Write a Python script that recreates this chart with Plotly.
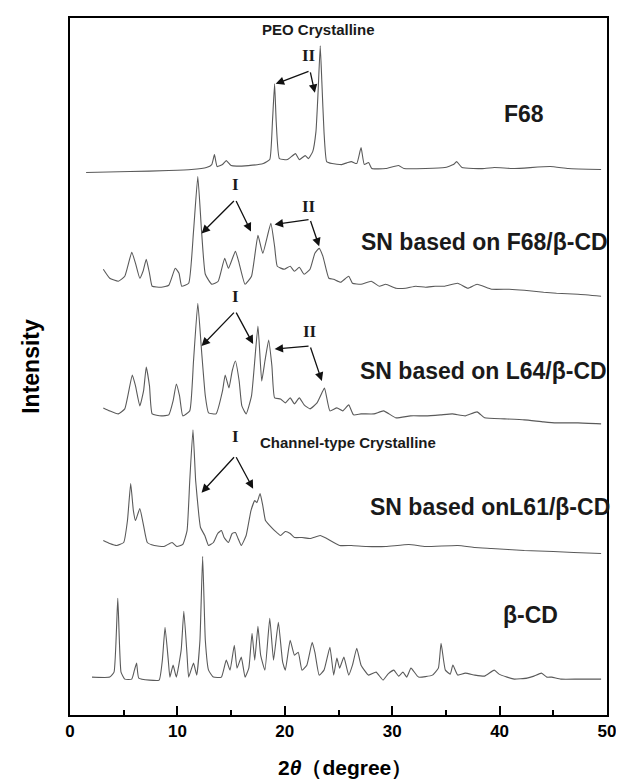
import plotly.graph_objects as go

# ---------------- data (2theta in degrees, intensity in arbitrary stacked units) ----------------
tt_f68 = [1.5, 5.6, 9.2, 11.3, 12.7, 13.2, 13.45, 13.7, 14.2, 14.55, 15.0, 16.6, 18.0, 18.6, 18.85, 19.05,
          19.2, 19.5, 20.25, 21.0, 21.35, 21.9, 22.2, 22.6, 22.9, 23.1, 23.3, 23.45, 23.65, 23.9, 24.4,
          25.3, 25.85, 26.2, 26.7, 27.1, 27.4, 27.8, 28.1, 29.4, 30.6, 31.1, 33.1, 34.9, 35.7, 36.0,
          36.5, 38.6, 39.5, 41.4, 44.7, 46.4, 49.45]
i_f68 = [544, 545, 546, 547, 549, 552, 562, 550, 552, 556, 551, 551, 553, 557, 595, 633,
         595, 558, 557, 563, 557, 561, 558, 565, 585, 625, 671, 635, 585, 555, 553,
         552, 554, 555, 553, 569, 552, 554, 548, 548, 551, 548, 548, 549, 552, 555,
         549, 548, 549, 548, 550, 548, 547]

tt_f68cd = [3.1, 3.7, 4.5, 5.1, 5.75, 6.1, 6.5, 6.8, 7.1, 7.4, 7.65, 8.5, 9.2, 9.8, 10.15, 10.4, 11.05,
            11.5, 11.9, 12.25, 12.6, 13.2, 13.8, 14.4, 14.75, 15.4, 15.75, 16.3, 16.9, 17.5, 17.95, 18.7,
            19.05, 19.3, 19.95, 20.5, 20.9, 21.35, 21.8, 22.35, 22.8, 23.2, 23.55, 24.1, 24.55, 25.2,
            25.95, 26.3, 27.1, 28.05, 28.8, 29.4, 30.35, 31.25, 32.2, 33.1, 34.0, 34.9, 36.1, 37.05,
            37.9, 39.25, 40.9, 42.3, 44.1, 45.3, 47.3, 49.45]
i_f68cd = [447, 438, 435, 440, 464, 453, 438, 445, 457, 443, 430, 429, 431, 448, 443, 430, 433,
           485, 540, 485, 442, 432, 435, 458, 448, 465, 453, 432, 440, 481, 463, 493,
           470, 450, 447, 450, 445, 449, 442, 447, 463, 468, 460, 438, 437, 434,
           440, 433, 432, 435, 430, 432, 428, 428, 430, 429, 430, 430, 433, 428,
           432, 427, 427, 426, 424, 423, 422, 420]

tt_l64 = [3.1, 3.7, 4.5, 5.1, 5.8, 6.1, 6.5, 6.85, 7.1, 7.4, 7.65, 8.5, 9.2, 9.6, 9.9, 10.2, 10.5,
          11.15, 11.5, 11.9, 12.25, 12.6, 12.9, 13.6, 14.2, 14.45, 14.8, 15.1, 15.4, 15.75, 16.0,
          16.4, 16.9, 17.5, 17.85, 18.15, 18.5, 18.8, 19.05, 19.6, 20.05, 20.5, 20.9, 21.35, 21.8,
          22.35, 23.0, 23.45, 23.7, 24.2, 24.85, 25.4, 25.95, 26.4, 27.1, 28.3, 29.2, 30.35, 31.7,
          33.1, 34.5, 35.6, 36.8, 37.9, 38.6, 40.45, 42.3, 44.1, 45.3, 47.3, 49.45]
i_l64 = [308, 305, 302, 307, 341, 330, 310, 325, 349, 330, 302, 300, 301, 315, 332, 320, 300,
         305, 355, 413, 365, 320, 303, 302, 325, 341, 328, 345, 355, 335, 310,
         302, 320, 390, 335, 355, 376, 350, 318, 317, 313, 318, 312, 318, 311,
         307, 313, 323, 328, 305, 308, 305, 311, 301, 302, 302, 305, 298, 300,
         300, 301, 302, 300, 304, 298, 297, 296, 294, 293, 293, 292]

tt_l61 = [3.1, 3.7, 4.35, 5.0, 5.35, 5.65, 5.9, 6.1, 6.5, 6.85, 7.2, 7.85, 8.75, 9.5, 9.95, 10.5,
          10.9, 11.15, 11.45, 11.7, 12.0, 12.15, 12.55, 12.9, 13.35, 13.75, 14.1, 14.35, 14.75,
          15.1, 15.4, 15.65, 15.95, 16.4, 16.85, 17.2, 17.4, 17.7, 17.95, 18.2, 18.6, 19.05, 19.6,
          20.05, 20.5, 20.9, 21.6, 22.35, 23.3, 23.9, 25.1, 26.2, 27.6, 29.4, 31.55, 33.1, 36.1,
          37.7, 39.25, 42.3, 45.0, 46.9, 49.45]
i_l61 = [175, 172, 170, 173, 195, 232, 205, 195, 207, 190, 173, 170, 169, 173, 169, 171,
         185, 235, 286, 235, 200, 188, 180, 170, 173, 182, 185, 178, 173,
         182, 183, 177, 170, 180, 205, 215, 213, 222, 210, 195, 190, 185, 180,
         184, 182, 178, 178, 177, 180, 177, 170, 170, 169, 169, 171, 169, 170,
         168, 167, 165, 164, 163, 162]

tt_bcd = [2.05, 3.7, 4.1, 4.45, 4.75, 5.1, 5.75, 6.0, 6.2, 6.4, 7.4, 8.3, 8.6, 8.85, 9.15, 9.3, 9.6,
          9.9, 10.35, 10.6, 10.9, 11.05, 11.5, 11.8, 12.1, 12.35, 12.6, 12.9, 13.35, 14.1, 14.55,
          14.9, 15.3, 15.55, 15.95, 16.3, 16.65, 16.95, 17.2, 17.5, 17.75, 18.15, 18.6, 18.95,
          19.4, 19.8, 20.05, 20.5, 20.9, 21.25, 21.6, 22.05, 22.55, 22.8, 23.2, 23.65, 24.2,
          24.55, 24.85, 25.1, 25.5, 25.95, 26.3, 26.7, 27.1, 27.8, 28.5, 29.15, 29.6, 30.15,
          30.6, 31.0, 31.35, 31.75, 32.45, 33.75, 34.3, 34.55, 34.95, 35.4, 35.65, 36.1, 36.8,
          37.7, 38.6, 39.5, 39.95, 40.7, 41.35, 42.55, 43.2, 43.9, 44.4, 44.85, 45.7, 47.35, 49.45]
i_bcd = [38, 38, 43, 117, 43, 36, 36, 45, 52, 37, 35, 35, 55, 88, 55, 38, 50,
         38, 65, 104, 60, 38, 52, 40, 75, 159, 75, 45, 38, 38, 55,
         45, 70, 47, 58, 38, 47, 82, 55, 89, 60, 45, 97, 55,
         93, 53, 45, 75, 60, 63, 45, 50, 73, 63, 40, 45, 68,
         40, 57, 47, 58, 40, 50, 67, 50, 40, 43, 35, 41, 45,
         39, 43, 38, 47, 38, 40, 47, 72, 45, 41, 50, 40, 42,
         40, 39, 45, 41, 38, 36, 37, 39, 42, 38, 38, 36, 36, 36]

curves = [(tt_f68, i_f68), (tt_f68cd, i_f68cd), (tt_l64, i_l64), (tt_l61, i_l61), (tt_bcd, i_bcd)]

sample_labels = ["F68", "SN based on F68/β-CD", "SN based on L64/β-CD", "SN based onL61/β-CD", "β-CD"]
label_x = [42.3, 38.6, 38.5, 39.1, 42.9]
label_y = [603, 474, 345, 209, 100]

x_ticks = [0, 10, 20, 30, 40, 50]

# ---------------- figure ----------------
fig = go.Figure()
for tt, inten in curves:
    fig.add_trace(go.Scatter(x=tt, y=inten, mode="lines",
                             line=dict(color="#5a5a5a", width=1.1, shape="spline", smoothing=0.4),
                             showlegend=False, hoverinfo="skip"))

ann = []
for txt, lx, ly in zip(sample_labels, label_x, label_y):
    ann.append(dict(x=lx, y=ly, xref="x", yref="y", text=txt, showarrow=False,
                    font=dict(family="Liberation Sans, Arial", size=23, color="#1a1a1a", weight="bold")))

ann.append(dict(x=23.1, y=687, xref="x", yref="y", text="PEO Crystalline", showarrow=False,
                font=dict(family="Liberation Sans, Arial", size=15, color="#1a1a1a", weight="bold")))
ann.append(dict(x=25.85, y=273, xref="x", yref="y", text="Channel-type Crystalline", showarrow=False,
                font=dict(family="Liberation Sans, Arial", size=15, color="#1a1a1a", weight="bold")))

roman = [("II", 22.25, 661), ("I", 15.4, 532), ("II", 22.25, 510), ("I", 15.4, 420),
         ("II", 22.35, 385), ("I", 15.4, 279)]
for txt, rx, ry in roman:
    ann.append(dict(x=rx, y=ry, xref="x", yref="y", text=txt, showarrow=False,
                    font=dict(family="Liberation Serif, Times New Roman", size=17, color="#1a1a1a",
                              weight="bold")))

# arrows: (tail x, tail y, head x, head y)
arrows = [(22.35, 646, 19.15, 633), (22.35, 646, 22.8, 624),
          (15.4, 517, 12.25, 483), (15.4, 517, 16.85, 485),
          (22.35, 497, 19.05, 492), (22.35, 497, 23.2, 470),
          (15.4, 405, 12.25, 370), (15.4, 405, 17.05, 372),
          (22.35, 370, 19.05, 367), (22.35, 370, 23.45, 335),
          (15.4, 260, 12.25, 223), (15.4, 260, 17.05, 227)]
for tx, ty, hx, hy in arrows:
    ann.append(dict(x=hx, y=hy, ax=tx, ay=ty, xref="x", yref="y", axref="x", ayref="y",
                    text="", showarrow=True, arrowhead=2, arrowsize=1.3, arrowwidth=1.3,
                    arrowcolor="#111111", standoff=0, startstandoff=0))

# x-axis title placed as an annotation so it can sit slightly right of centre like the original
ann.append(dict(x=25.6, y=0, xref="x", yref="paper", yanchor="top", yshift=-39,
                text="2<i>θ</i>（degree）", showarrow=False,
                font=dict(family="Liberation Sans, Arial", size=21, color="black", weight="bold")))

# the page body adds an 8px margin, so the figure is 8px smaller and margins are offset
fig.update_layout(
    width=616, height=776,
    margin=dict(l=62, r=10, t=8, b=69),
    paper_bgcolor="white", plot_bgcolor="white",
    annotations=ann,
    font=dict(family="Liberation Sans, Arial", color="black"),
    xaxis=dict(range=[0, 50], tickvals=x_ticks, ticks="inside", ticklen=9, tickwidth=2,
               tickcolor="black", showline=True, linewidth=2, linecolor="black", mirror=True,
               showgrid=False, zeroline=False,
               minor=dict(dtick=5, tick0=0, ticks="inside", ticklen=5, tickwidth=2, tickcolor="black"),
               tickfont=dict(size=17, weight="bold", color="black")),
    yaxis=dict(range=[0, 699], showticklabels=False, ticks="", showline=True, linewidth=2,
               linecolor="black", mirror=True, showgrid=False, zeroline=False,
               title=dict(text="Intensity", standoff=22,
                          font=dict(size=23, weight="bold", color="black"))),
)

fig.write_html("out.html")
